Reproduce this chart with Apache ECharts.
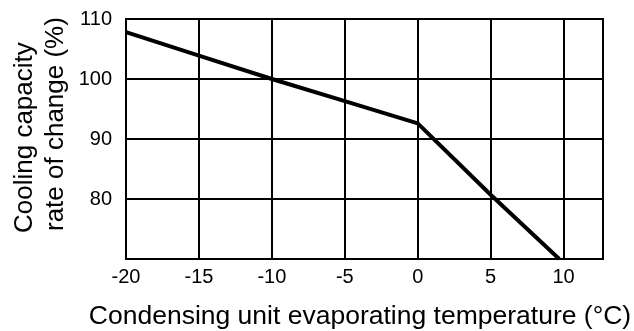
<!DOCTYPE html>
<html>
<head>
<meta charset="utf-8">
<style>
  html, body { margin: 0; padding: 0; background: #fff; }
  #chart { width: 634px; height: 331px; }
</style>
<script src="https://cdn.jsdelivr.net/npm/echarts@6/dist/echarts.min.js"></script>
</head>
<body>
<div id="chart"></div>
<script>
// Evaporating temperature (°C) and cooling capacity rate of change (%)
const temperatures = [-20, -15, -10, -5, 0, 5, 9.7];
const capacityRates = [107.8, 103.9, 100, 96.3, 92.6, 80.7, 70];

const xTicks = [-20, -15, -10, -5, 0, 5, 10];
const yTicks = [80, 90, 100, 110];

const xAxisTitle = 'Condensing unit evaporating temperature (°C)';
const yAxisTitleLines = ['Cooling capacity', 'rate of change (%)'];

const font = '"Liberation Sans", Arial, Helvetica, sans-serif';

const chart = echarts.init(document.getElementById('chart'), null, { renderer: 'canvas' });

chart.setOption({
  animation: false,
  backgroundColor: '#fff',
  grid: {
    left: 126, right: 31, top: 19, bottom: 72,
    containLabel: false, outerBoundsMode: 'none',
    show: true, borderColor: '#000', borderWidth: 2
  },
  xAxis: {
    type: 'value',
    min: -20,
    max: 12.7,
    interval: 5,
    axisLine: { show: false },
    axisTick: { show: false },
    splitLine: { show: true, lineStyle: { color: '#000', width: 2 } },
    axisLabel: {
      fontFamily: font, fontSize: 20, color: '#000', margin: 8,
      showMaxLabel: false,
      formatter: v => (xTicks.indexOf(v) >= 0 ? String(v) : '')
    }
  },
  yAxis: {
    type: 'value',
    min: 70,
    max: 110,
    interval: 10,
    axisLine: { show: false },
    axisTick: { show: false },
    splitLine: { show: true, lineStyle: { color: '#000', width: 2 } },
    axisLabel: {
      fontFamily: font, fontSize: 20, color: '#000', margin: 14,
      formatter: v => (yTicks.indexOf(v) >= 0 ? String(v) : '')
    }
  },
  graphic: [
    {
      type: 'text', x: 360, y: 317,
      style: { text: xAxisTitle, font: '26.5px ' + font, fill: '#000', align: 'center', verticalAlign: 'middle' }
    },
    {
      type: 'text', x: 25, y: 233, rotation: Math.PI / 2,
      style: { text: yAxisTitleLines[0], font: '26px ' + font, fill: '#000', align: 'left', verticalAlign: 'middle' }
    },
    {
      type: 'text', x: 56, y: 231, rotation: Math.PI / 2,
      style: { text: yAxisTitleLines[1], font: '26px ' + font, fill: '#000', align: 'left', verticalAlign: 'middle' }
    }
  ],
  series: [{
    type: 'line',
    data: temperatures.map((t, i) => [t, capacityRates[i]]),
    symbol: 'none',
    lineStyle: { color: '#000', width: 4, join: 'round', cap: 'butt' }
  }]
});
</script>
</body>
</html>
